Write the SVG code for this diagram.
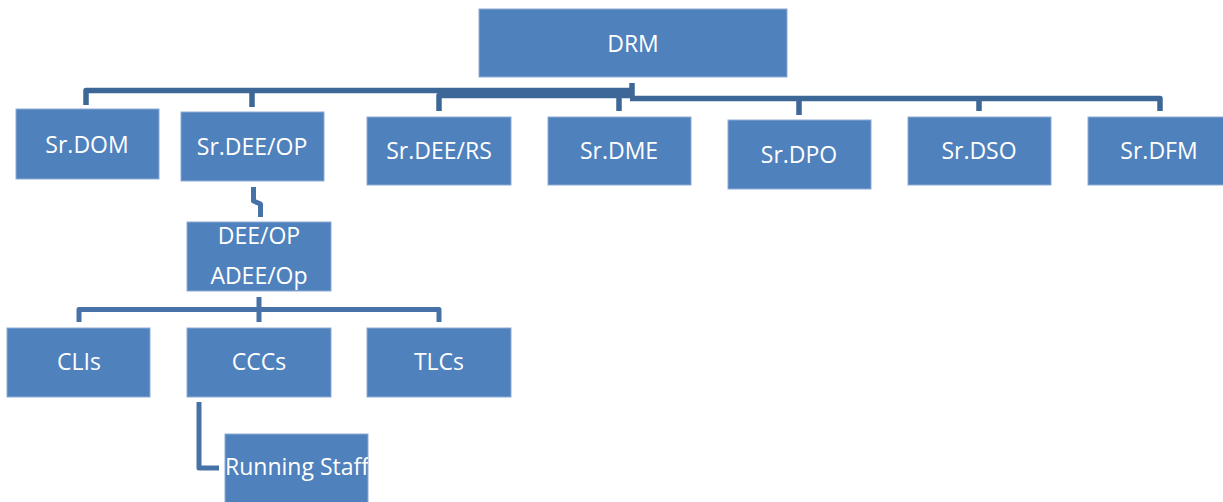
<svg xmlns="http://www.w3.org/2000/svg" width="1223" height="502" viewBox="0 0 1223 502">
  <style>
    .box { fill: #4F81BD; stroke: #8EABD3; stroke-width: 1; }
    .lbl { font-family: "Open Sans", "Liberation Sans", sans-serif; font-size: 23px; fill: #FFFFFF; text-anchor: middle; }
    .wire { fill: none; stroke: #3D6796; stroke-width: 5.5; stroke-linejoin: round; }
    .wire2 { fill: none; stroke: #4672A8; stroke-width: 5; stroke-linejoin: round; }
  </style>
  <defs>
    <clipPath id="clip-running">
      <rect x="225" y="434" width="143" height="68"/>
    </clipPath>
  </defs>
  <rect width="1223" height="502" fill="#FFFFFF"/>

  <!-- connectors -->
  <g id="connectors">
    <path class="wire" d="M632,83 V98"/>
    <path class="wire" d="M86,105 V90.5 H632"/>
    <path class="wire" d="M252,107 V90.5"/>
    <path class="wire" d="M439,111 V95.5 H630"/>
    <path class="wire" d="M619,95.5 V111"/>
    <path class="wire" d="M630,98.5 H1160 V111"/>
    <path class="wire" d="M799,98.5 V115"/>
    <path class="wire" d="M979,98.5 V111"/>
    <path class="wire2" d="M253.5,187 V201 L260.5,204 V217"/>
    <path class="wire2" d="M259,297 V322"/>
    <path class="wire2" d="M79,322 V309.5 H439 V322"/>
    <path class="wire2" d="M199,402 V468 H219"/>
  </g>

  <g id="drm">
    <rect class="box" x="479" y="9" width="308" height="68"/>
    <text class="lbl" x="633" y="52">DRM</text>
  </g>
  <g id="sr-dom">
    <rect class="box" x="16" y="109" width="143" height="70"/>
    <text class="lbl" x="87" y="153">Sr.DOM</text>
  </g>
  <g id="sr-dee-op">
    <rect class="box" x="181" y="112" width="143" height="69"/>
    <text class="lbl" x="252" y="155">Sr.DEE/OP</text>
  </g>
  <g id="sr-dee-rs">
    <rect class="box" x="367" y="117" width="144" height="68"/>
    <text class="lbl" x="439" y="159">Sr.DEE/RS</text>
  </g>
  <g id="sr-dme">
    <rect class="box" x="548" y="117" width="143" height="68"/>
    <text class="lbl" x="619" y="159">Sr.DME</text>
  </g>
  <g id="sr-dpo">
    <rect class="box" x="728" y="120" width="143" height="69"/>
    <text class="lbl" x="799" y="163">Sr.DPO</text>
  </g>
  <g id="sr-dso">
    <rect class="box" x="908" y="117" width="143" height="68"/>
    <text class="lbl" x="979" y="159">Sr.DSO</text>
  </g>
  <g id="sr-dfm">
    <rect class="box" x="1088" y="117" width="143" height="68"/>
    <text class="lbl" x="1159" y="159">Sr.DFM</text>
  </g>
  <g id="dee-op">
    <rect class="box" x="187" y="222" width="144" height="69"/>
    <text class="lbl" x="259" y="244">DEE/OP</text>
    <text class="lbl" x="259" y="284">ADEE/Op</text>
  </g>
  <g id="clis">
    <rect class="box" x="7" y="328" width="143" height="69"/>
    <text class="lbl" x="79" y="370">CLIs</text>
  </g>
  <g id="cccs">
    <rect class="box" x="187" y="328" width="144" height="69"/>
    <text class="lbl" x="259" y="370">CCCs</text>
  </g>
  <g id="tlcs">
    <rect class="box" x="367" y="328" width="144" height="69"/>
    <text class="lbl" x="439" y="370">TLCs</text>
  </g>
  <g id="running-staff">
    <rect class="box" x="225" y="434" width="143" height="70"/>
    <text class="lbl" x="225" y="475" style="text-anchor:start" clip-path="url(#clip-running)">Running Staff</text>
  </g>
</svg>
